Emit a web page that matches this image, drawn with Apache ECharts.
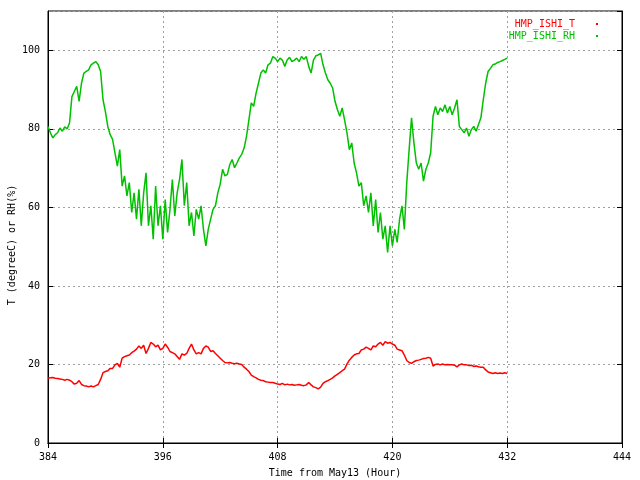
<!DOCTYPE html>
<html>
<head>
<meta charset="utf-8">
<script src="https://cdn.jsdelivr.net/npm/echarts@6/dist/echarts.min.js"></script>
<style>
html,body{margin:0;padding:0;background:#fff;}
#chart{width:640px;height:480px;}
</style>
</head>
<body>
<div id="chart"></div>
<script>
// Sampling: one value every 0.25 hour from hour 384
const startHour = 384;
const stepHour = 0.25;

const seriesNames = ['HMP_ISHI_T', 'HMP_ISHI_RH'];
const xTicks = [384, 396, 408, 420, 432, 444];
const yTicks = [0, 20, 40, 60, 80, 100];

// Temperature (degreeC)
const tempValues = [
  16.5,16.6,16.7,16.5,16.4,16.3,16.2,16.0,16.2,16.0,
  15.6,15.0,15.2,15.9,14.9,14.6,14.5,14.3,14.5,14.3,
  14.6,14.9,16.2,17.9,18.2,18.4,19.0,19.0,19.9,20.3,
  19.3,21.6,22.0,22.2,22.4,23.0,23.4,23.9,24.7,24.1,
  24.9,22.8,24.1,25.6,25.2,24.5,24.9,23.7,24.1,25.2,
  24.4,23.3,23.0,22.7,22.0,21.3,22.7,22.4,22.8,24.1,
  25.2,23.7,22.7,23.0,22.7,24.1,24.7,24.4,23.3,23.5,
  22.8,22.2,21.6,21.0,20.5,20.4,20.5,20.3,20.2,20.3,
  20.1,20.0,19.3,18.8,18.2,17.3,16.9,16.6,16.2,16.0,
  15.9,15.6,15.5,15.4,15.4,15.2,
  15.0,14.9,15.2,14.8,15.0,14.8,14.9,14.7,14.8,14.9,
  14.7,14.6,14.8,15.4,14.8,14.3,14.1,13.8,14.2,15.2,
  15.6,15.9,16.2,16.6,17.1,17.5,17.9,18.4,18.8,20.1,
  21.1,21.8,22.4,22.7,22.8,23.7,23.9,24.4,24.1,23.7,
  24.7,24.5,25.2,25.6,24.9,25.8,25.4,25.6,25.2,24.9,
  23.9,23.7,23.5,22.4,21.0,20.5,20.3,20.7,21.0,21.1,
  21.3,21.5,21.6,21.8,21.6,19.6,20.0,20.1,19.9,20.1,
  19.9,20.0,19.9,19.9,19.8,19.4,19.9,20.1,19.9,19.9,
  19.7,19.8,19.5,19.6,19.4,19.3,19.3,18.6,18.1,17.9,
  17.7,17.9,17.7,17.8,17.7,17.9,17.7
];

// Relative humidity (%)
const rhValues = [
  80.6,79.0,77.7,78.5,79.0,80.2,79.4,80.5,80.0,81.5,
  88.2,89.5,90.8,87.0,91.6,94.2,94.6,95.0,96.3,96.7,
  97.1,96.3,94.6,87.4,84.4,80.6,78.5,77.3,73.9,70.5,
  74.7,65.4,68.0,62.9,66.3,58.7,63.7,57.0,64.6,55.3,
  63.7,68.8,55.3,60.4,51.9,65.4,55.3,60.4,51.9,62.0,
  53.6,59.5,67.1,57.8,63.7,67.1,72.2,60.4,66.3,55.3,
  58.7,52.7,59.5,57.0,60.4,54.4,50.2,
  54.4,
  57.0,59.5,60.4,63.7,65.9,69.7,68.0,68.4,70.9,72.2,
  70.1,71.3,72.6,73.5,75.1,78.1,82.3,86.6,85.7,89.1,
  91.6,94.2,95.0,94.2,96.3,96.7,98.4,98.0,97.1,98.0,
  97.5,95.9,97.5,98.2,97.1,97.5,98.0,97.1,98.4,97.7,
  98.4,95.9,94.2,97.5,98.6,98.8,99.2,96.3,94.2,92.5,
  91.6,90.4,87.0,84.9,83.2,85.3,82.3,79.0,74.7,76.4,
  71.3,68.8,65.4,
  66.3,60.4,62.9,58.7,63.7,55.3,62.0,53.6,58.7,51.9,
  55.3,48.5,55.3,50.2,54.4,51.1,57.0,60.4,54.4,66.3,
  74.7,82.8,76.4,71.3,69.7,71.3,66.7,69.7,71.3,73.9,
  83.2,85.7,83.6,85.3,84.4,86.1,84.0,85.7,83.6,85.3,
  87.4,80.6,79.8,79.0,80.2,78.1,79.8,80.6,79.4,81.1,
  82.8,87.4,91.6,94.6,95.4,96.3,96.5,96.9,97.1,97.4,
  97.7,98.0
];

const hours = rhValues.map((_, i) => startHour + i * stepHour);
const tempData = tempValues.map((v, i) => [hours[i], v]);
const rhData = rhValues.map((v, i) => [hours[i], v]);

const FONT = 'DejaVu Sans Mono';
const colors = ['#ff0000', '#00c000'];

const chart = echarts.init(document.getElementById('chart'), null, {renderer: 'canvas'});

const gridLine = {show: true, lineStyle: {color: '#a0a0a0', type: [2, 3], width: 1}};
const tickIn = {show: true, inside: true, length: 5, lineStyle: {color: '#000', width: 1}};

chart.setOption({
  animation: false,
  backgroundColor: '#fff',
  grid: {left: 48, right: 18, top: 11, bottom: 37, show: true, borderColor: '#000', borderWidth: 1,
         containLabel: false, outerBoundsMode: 'none'},
  legend: {
    orient: 'vertical',
    right: 37,
    top: 14,
    align: 'right',
    itemWidth: 2,
    itemHeight: 2,
    itemGap: 2,
    icon: 'rect',
    selectedMode: false,
    data: [
      {name: seriesNames[0], textStyle: {color: colors[0]}},
      {name: seriesNames[1], textStyle: {color: colors[1]}}
    ],
    textStyle: {fontFamily: FONT, fontSize: 10, padding: [0, 16, 0, 0]}
  },
  xAxis: [
    {
      type: 'value', min: xTicks[0], max: xTicks[xTicks.length - 1], interval: 12,
      name: 'Time from May13 (Hour)', nameLocation: 'middle', nameGap: 25,
      nameTextStyle: {fontFamily: FONT, fontSize: 10, color: '#000'},
      axisLine: {show: true, lineStyle: {color: '#000'}},
      axisTick: tickIn,
      axisLabel: {fontFamily: FONT, fontSize: 10, color: '#000', margin: 9},
      splitLine: gridLine
    },
    {
      type: 'value', position: 'top', min: xTicks[0], max: xTicks[xTicks.length - 1], interval: 12,
      axisLine: {show: true, lineStyle: {color: '#000'}},
      axisTick: tickIn, axisLabel: {show: false}, splitLine: {show: false}
    }
  ],
  yAxis: [
    {
      type: 'value', min: yTicks[0], max: 110, interval: 20,
      axisLine: {show: true, lineStyle: {color: '#000'}},
      axisTick: tickIn,
      axisLabel: {fontFamily: FONT, fontSize: 10, color: '#000', margin: 8, showMaxLabel: false},
      splitLine: gridLine
    },
    {
      type: 'value', position: 'right', min: yTicks[0], max: 110, interval: 20,
      axisLine: {show: true, lineStyle: {color: '#000'}},
      axisTick: tickIn, axisLabel: {show: false}, splitLine: {show: false}
    }
  ],
  graphic: [{
    type: 'text',
    x: 12, y: 245,
    rotation: Math.PI / 2,
    style: {text: 'T (degreeC) or RH(%)', fontFamily: FONT, fontSize: 10, fill: '#000', align: 'center', verticalAlign: 'middle'}
  }],
  series: [
    {name: seriesNames[0], type: 'line', data: tempData, showSymbol: false, color: colors[0],
     lineStyle: {color: colors[0], width: 1.5}, xAxisIndex: 0, yAxisIndex: 0},
    {name: seriesNames[1], type: 'line', data: rhData, showSymbol: false, color: colors[1],
     lineStyle: {color: colors[1], width: 1.5}, xAxisIndex: 0, yAxisIndex: 0}
  ]
});
</script>
</body>
</html>
